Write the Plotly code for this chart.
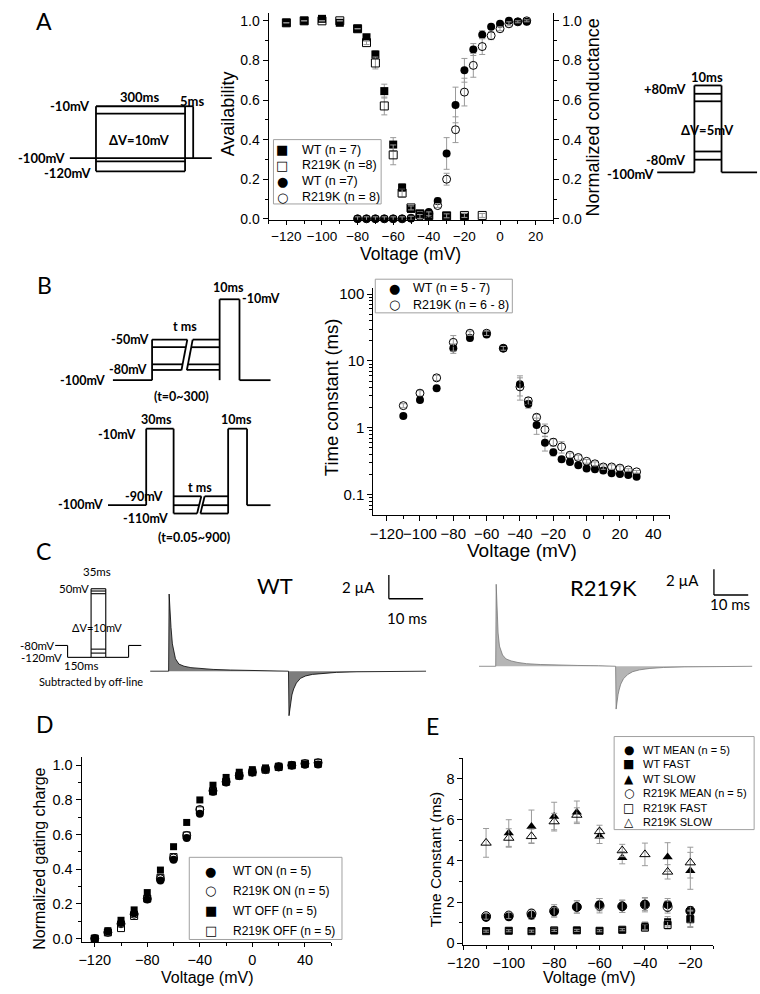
import plotly.graph_objects as go

FONT = "Liberation Sans"
PFONT = "Lato"
SYMFONT = "DejaVu Sans"
W, H = 760, 994

def px(x):
    return x / W

def py(y):
    return 1 - y / H

# ---------------- Panel A data ----------------
a_av_v = [-120, -110, -100, -90, -80, -75, -70, -65, -60, -55, -50, -45, -40, -30, -20, -10]
a_av_wt = [0.99, 1.0, 1.01, 0.99, 0.96, 0.917, 0.83, 0.645, 0.375, 0.158, 0.05, 0.025, 0.017, 0.015, 0.01, None]
a_av_wt_err = [0, 0, 0, 0, 0, 0.01, 0.02, 0.035, 0.035, 0.02, 0.005, 0, 0, 0, 0, 0]
a_av_r = [0.99, 1.0, 1.0, 1.0, 0.96, 0.89, 0.787, 0.57, 0.323, 0.13, 0.055, 0.025, 0.017, 0.015, 0.017, 0.017]
a_av_r_err = [0, 0, 0, 0, 0, 0.01, 0.03, 0.045, 0.05, 0.02, 0.01, 0.01, 0.01, 0.01, 0.01, 0.01]

a_g_v = [-80, -75, -70, -65, -60, -55, -50, -45, -40, -35, -30, -25, -20, -15, -10, -5, 0, 5, 10, 15]
a_g_wt = [0, 0, 0, 0, 0, 0, 0.003, 0.015, 0.035, 0.09, 0.33, 0.575, 0.75, 0.855, 0.93, 0.97, 0.985, 1.0, 0.995, 0.995]
a_g_wt_err = [0.005, 0.005, 0.005, 0.005, 0.005, 0.005, 0.005, 0.01, 0.01, 0.015, 0.08, 0.09, 0.06, 0.03, 0.02, 0.01, 0.01, 0.005, 0.005, 0.005]
a_g_r = [0, 0, 0, 0, 0, 0, 0.003, 0.012, 0.025, 0.067, 0.2, 0.45, 0.64, 0.775, 0.87, 0.925, 0.96, 0.985, 0.995, 1.0]
a_g_r_err = [0.01, 0.01, 0.01, 0.01, 0.01, 0.01, 0.01, 0.01, 0.01, 0.01, 0.03, 0.065, 0.07, 0.06, 0.04, 0.02, 0.01, 0.01, 0.005, 0.005]
a_legend = [("■", "WT (n = 7)"), ("□", "R219K (n =8)"), ("●", "WT (n =7)"), ("○", "R219K (n = 8)")]

# ---------------- Panel B data ----------------
b_v = [-110, -100, -90, -80, -70, -60, -50, -40, -35, -30, -25, -20, -15, -10, -5, 0, 5, 10, 15, 20, 25, 30]
b_wt = [1.5, 2.6, 3.9, 15.5, 22, 25, 15.5, 4.5, 2.27, 1.1, 0.6, 0.43, 0.34, 0.31, 0.275, 0.247, 0.24, 0.23, 0.21, 0.205, 0.197, 0.186]
b_wt_err = [0.1, 0.2, 0.3, 2.5, 2, 2, 1, 1.5, 0.3, 0.3, 0.15, 0.05, 0.03, 0.02, 0.02, 0.02, 0.02, 0.02, 0.01, 0.01, 0.01, 0.01]
b_r = [2.15, 3.3, 5.6, 19, 26, 26, 15.5, 4.1, 2.54, 1.44, 0.94, 0.61, 0.52, 0.39, 0.36, 0.316, 0.29, 0.26, 0.26, 0.25, 0.235, 0.22]
b_r_err = [0.15, 0.3, 0.5, 5, 2, 2, 1, 1.5, 0.3, 0.15, 0.2, 0.08, 0.1, 0.03, 0.03, 0.02, 0.02, 0.02, 0.02, 0.02, 0.01, 0.01]
b_legend = [("●", "WT (n = 5 - 7)"), ("○", "R219K (n = 6 - 8)")]

# ---------------- Panel C data (gating current traces, µA vs ms) ----------------
c_t = [-5.4, 0.0, 0.15, 0.4, 0.7, 1.1, 1.5, 2.0, 3.0, 4.5, 6.5, 9, 13, 18, 24, 30, 34.9,
       35.0, 35.15, 35.4, 35.7, 36.0, 36.5, 37.3, 38.5, 40, 42, 45, 49, 55, 62, 75.2]
c_wt = [0, 0, 6.5, 5.0, 3.7, 2.3, 1.6, 1.05, 0.6, 0.42, 0.3, 0.22, 0.15, 0.1, 0.07, 0.05, 0.04,
        0, -3.75, -3.1, -2.5, -2.0, -1.5, -1.0, -0.6, -0.4, -0.27, -0.17, -0.1, -0.05, -0.03, 0]
c_r = [0, 0, 6.9, 4.2, 2.8, 1.7, 1.3, 0.95, 0.62, 0.45, 0.32, 0.22, 0.15, 0.1, 0.07, 0.05, 0.04,
       0, -3.6, -2.9, -2.4, -2.0, -1.5, -1.05, -0.7, -0.45, -0.3, -0.18, -0.1, -0.05, -0.03, 0]

# ---------------- Panel D data ----------------
d_v = [-120, -110, -100, -90, -80, -70, -60, -50, -40, -30, -20, -10, 0, 10, 20, 30, 40, 50]
d_wt_on = [0.0, 0.04, 0.09, 0.145, 0.225, 0.335, 0.455, 0.58, 0.72, 0.847, 0.9, 0.94, 0.96, 0.977, 0.994, 1.0, 1.003, 1.005]
d_r_on = [0.0, 0.035, 0.085, 0.14, 0.23, 0.345, 0.465, 0.595, 0.745, 0.853, 0.905, 0.94, 0.96, 0.975, 0.99, 1.0, 1.01, 1.015]
d_wt_off = [0.0, 0.045, 0.105, 0.165, 0.265, 0.395, 0.53, 0.67, 0.80, 0.885, 0.93, 0.96, 0.975, 0.985, 0.995, 1.0, 1.005, 1.005]
d_r_off = [0.0, 0.035, 0.06, 0.13, 0.23, 0.35, 0.47, 0.595, 0.74, 0.85, 0.905, 0.94, 0.96, 0.975, 0.99, 1.0, 1.01, 1.015]
d_legend = [("●", "WT ON (n = 5)"), ("○", "R219K ON (n = 5)"), ("■", "WT OFF (n = 5)"), ("□", "R219K OFF (n = 5)")]

# ---------------- Panel E data ----------------
e_v = [-110, -100, -90, -80, -70, -60, -50, -40, -30, -20]
e_wt_mean = [1.25, 1.28, 1.36, 1.52, 1.76, 1.87, 1.79, 1.89, 1.87, 1.57]
e_wt_mean_err = [0.15, 0.15, 0.2, 0.25, 0.3, 0.3, 0.3, 0.3, 0.3, 0.2]
e_wt_fast = [0.6, 0.6, 0.6, 0.6, 0.62, 0.6, 0.64, 0.83, 1.04, 1.2]
e_wt_fast_err = [0.05, 0.05, 0.05, 0.05, 0.05, 0.05, 0.05, 0.2, 0.25, 0.4]
e_wt_slow = [None, 5.36, 5.68, 6.16, 6.37, 5.2, 4.16, None, 4.19, 3.52]
e_wt_slow_err = [0, 0.65, 0.8, 0.7, 0.55, 0.35, 0.3, 0, 0.7, 0.9]
e_r_mean = [1.31, 1.34, 1.44, 1.57, 1.76, 1.82, 1.79, 1.87, 1.76, 1.57]
e_r_mean_err = [0.15, 0.15, 0.2, 0.3, 0.3, 0.35, 0.3, 0.35, 0.3, 0.2]
e_r_fast = [0.58, 0.6, 0.58, 0.62, 0.62, 0.6, 0.65, 0.75, 0.88, 1.16]
e_r_fast_err = [0.05, 0.05, 0.05, 0.05, 0.05, 0.05, 0.05, 0.15, 0.2, 0.4]
e_r_slow = [4.88, 5.12, 5.2, 5.92, 6.24, 5.44, 4.51, 4.32, 3.47, 3.92]
e_r_slow_err = [0.7, 0.45, 0.35, 0.4, 0.35, 0.3, 0.3, 0.55, 0.35, 0.75]
e_legend = [("●", "WT MEAN (n = 5)"), ("■", "WT FAST"), ("▲", "WT SLOW"),
            ("○", "R219K MEAN (n = 5)"), ("□", "R219K FAST"), ("△", "R219K SLOW")]

fig = go.Figure()

def err(arr):
    return dict(type="data", array=arr, visible=True, color="#9a9a9a", thickness=1, width=3)

def mk(symbol, size, filled=True):
    if filled:
        return dict(symbol=symbol, size=size, color="black", line=dict(width=0))
    return dict(symbol=symbol + "-open", size=size, color="black", line=dict(width=1, color="black"))

def sc(x, y, name, marker, e, xa, ya):
    kw = dict(x=x, y=y, mode="markers", name=name, marker=marker, xaxis=xa, yaxis=ya,
              showlegend=False, cliponaxis=False)
    if e is not None:
        kw["error_y"] = err(e)
    fig.add_trace(go.Scatter(**kw))

# Panel A
sc(a_av_v, a_av_wt, a_legend[0][1], mk("square", 8), a_av_wt_err, "x", "y")
sc(a_av_v, a_av_r, a_legend[1][1], mk("square", 8, False), a_av_r_err, "x", "y")
sc(a_g_v, a_g_wt, a_legend[2][1], mk("circle", 8), a_g_wt_err, "x", "y2")
sc(a_g_v, a_g_r, a_legend[3][1], mk("circle", 8, False), a_g_r_err, "x", "y2")

# Panel B
sc(b_v, b_wt, b_legend[0][1], mk("circle", 8), b_wt_err, "x2", "y3")
sc(b_v, b_r, b_legend[1][1], mk("circle", 8, False), b_r_err, "x2", "y3")

# Panel C traces
fig.add_trace(go.Scatter(x=c_t, y=c_wt, mode="lines", line=dict(color="black", width=0.8),
                         fill="tozeroy", fillcolor="rgba(70,70,70,0.7)", showlegend=False, name="WT",
                         xaxis="x3", yaxis="y4"))
fig.add_trace(go.Scatter(x=c_t, y=c_r, mode="lines", line=dict(color="#777777", width=0.8),
                         fill="tozeroy", fillcolor="rgba(150,150,150,0.7)", showlegend=False, name="R219K",
                         xaxis="x4", yaxis="y5"))

# Panel D
sc(d_v, d_wt_on, d_legend[0][1], mk("circle", 8), None, "x5", "y6")
sc(d_v, d_r_on, d_legend[1][1], mk("circle", 8, False), None, "x5", "y6")
sc(d_v, d_wt_off, d_legend[2][1], mk("square", 7), None, "x5", "y6")
sc(d_v, d_r_off, d_legend[3][1], mk("square", 7, False), None, "x5", "y6")

# Panel E
e_series = [
    (e_wt_mean, e_wt_mean_err, "circle", 9, True),
    (e_wt_fast, e_wt_fast_err, "square", 7, True),
    (e_wt_slow, e_wt_slow_err, "triangle-up", 9, True),
    (e_r_mean, e_r_mean_err, "circle", 9, False),
    (e_r_fast, e_r_fast_err, "square", 7, False),
    (e_r_slow, e_r_slow_err, "triangle-up", 9, False),
]
for (ys, es, sym, sz, filled), (g, name) in zip(e_series, e_legend):
    sc(e_v, ys, name, mk(sym, sz, filled), es, "x6", "y7")

# ---------------- axes ----------------
def ax(tsize=14, tl=5, **kw):
    d = dict(showline=True, linecolor="black", linewidth=1, ticks="outside", ticklen=tl, tickwidth=1,
             tickcolor="black", showgrid=False, zeroline=False, tickangle=0,
             tickfont=dict(family=FONT, size=tsize, color="black"))
    d.update(kw)
    return d

def minor(dt):
    return dict(ticks="outside", ticklen=3, tickcolor="black", dtick=dt)

log_minor = [v * m for v in (0.01, 0.1, 1, 10, 100) for m in range(2, 10)]

fig.update_layout(
    width=W, height=H, margin=dict(l=0, r=0, t=0, b=0),
    paper_bgcolor="white", plot_bgcolor="rgba(0,0,0,0)",
    font=dict(family=FONT, color="black"), showlegend=False,
    xaxis=ax(13.5, 4, domain=[px(258), px(549)], anchor="y", range=[-130, 30], dtick=20, tick0=0, minor=minor(10)),
    yaxis=ax(14, 5, domain=[py(219), py(10)], anchor="x", range=[-0.005, 1.04], dtick=0.2, tick0=0,
             tickformat=".1f", minor=minor(0.1)),
    yaxis2=ax(14, 5, overlaying="y", side="right", anchor="x", range=[-0.005, 1.04], dtick=0.2, tick0=0,
              tickformat=".1f", minor=minor(0.1)),
    xaxis2=ax(15, domain=[px(365), px(668)], anchor="y3", range=[-128, 50], dtick=20, tick0=0, minor=minor(10)),
    yaxis3=ax(15, domain=[py(517), py(288)], anchor="x2", type="log", range=[-1.3, 2.09],
              tickmode="array", tickvals=[0.1, 1, 10, 100], ticktext=["0.1", "1", "10", "100"],
              minor=dict(ticks="outside", ticklen=3, tickcolor="black", tickmode="array", tickvals=log_minor)),
    xaxis3=dict(domain=[px(137), px(419)], anchor="y4", range=[-5.4, 75.2], visible=False),
    yaxis4=dict(domain=[py(725), py(568)], anchor="x3", range=[-4.17, 8.92], visible=False),
    xaxis4=dict(domain=[px(473), px(752)], anchor="y5", range=[-4.86, 74.86], visible=False),
    yaxis5=dict(domain=[py(725), py(568)], anchor="x4", range=[-4.58, 8.5], visible=False),
    xaxis5=ax(14.5, 4, domain=[px(67), px(322)], anchor="y6", range=[-130, 60], dtick=40, tick0=0, minor=minor(20)),
    yaxis6=ax(14.5, 5, domain=[py(949), py(762)], anchor="x5", range=[-0.023, 1.046], dtick=0.2, tick0=0,
              tickformat=".1f", minor=minor(0.1)),
    xaxis6=ax(14.5, 4, domain=[px(457), px(712)], anchor="y7", range=[-120, -10], dtick=20, tick0=0, minor=minor(10)),
    yaxis7=ax(14.5, 5, domain=[py(951.7), py(763)], anchor="x6", range=[-0.1, 9.0], dtick=2, tick0=0, minor=minor(1)),
)

shapes = []
ann = []

# ---------------- axis titles ----------------
def title(x, y, s, size, angle=0):
    ann.append(dict(x=px(x), y=py(y), xref="paper", yref="paper", text=s, showarrow=False,
                    xanchor="center", yanchor="middle", textangle=angle,
                    font=dict(family=FONT, size=size, color="black")))

title(403, 254, "Voltage (mV)", 17.5)
title(216, 112, "Availability", 18, -90)
title(589, 116, "Normalized conductance", 18, -90)
title(517, 553, "Voltage (mV)", 19)
title(323, 398, "Time constant (ms)", 18.5, -90)
title(195, 984, "Voltage (mV)", 16)
title(24, 864, "Normalized gating charge", 16, -90)
title(585, 984, "Voltage (mV)", 16)
title(428, 865, "Time Constant (ms)", 15.5, -90)

# ---------------- legends (boxed, symbol + label rows) ----------------
def legend_box(box, sym_x, text_x, row_ys, items, size, sym_size):
    x0, y0, x1, y1 = box
    shapes.append(dict(type="rect", xref="paper", yref="paper", x0=px(x0), y0=py(y0), x1=px(x1), y1=py(y1),
                       line=dict(color="#a0a0a0", width=1), fillcolor="white", layer="above"))
    for (g, s), yy in zip(items, row_ys):
        ann.append(dict(x=px(sym_x), y=py(yy), xref="paper", yref="paper", text=g, showarrow=False,
                        xanchor="center", yanchor="middle",
                        font=dict(family=SYMFONT, size=sym_size, color="black")))
        ann.append(dict(x=px(text_x), y=py(yy), xref="paper", yref="paper", text=s, showarrow=False,
                        xanchor="left", yanchor="middle",
                        font=dict(family=FONT, size=size, color="black")))

legend_box((263, 138, 373, 203), 272, 290, [148, 164, 180, 196], a_legend, 12.5, 13)
legend_box((367, 279, 507, 313), 387, 403, [288, 305], b_legend, 12.5, 13)
legend_box((177, 863, 333, 946), 199, 220, [877, 897, 917, 937], d_legend, 12, 13)
legend_box((611, 741, 754, 835), 626, 638, [755, 769, 784, 798, 813, 827], e_legend, 11, 12)

# ---------------- protocol diagrams (schematics, pixel space) ----------------
def seg(x0, y0, x1, y1, w=1.8, ref=None):
    if ref is None:
        shapes.append(dict(type="line", xref="paper", yref="paper", x0=px(x0), y0=py(y0), x1=px(x1), y1=py(y1),
                           line=dict(color="black", width=w)))
    else:
        shapes.append(dict(type="line", xref=ref[0], yref=ref[1], x0=x0, y0=y0, x1=x1, y1=y1,
                           line=dict(color="black", width=w)))

# A left protocol
seg(55, 156.7, 200, 156.7)
seg(81.7, 104.3, 172.7, 104.3)
seg(81.7, 170, 172.7, 170)
seg(81.7, 104.3, 81.7, 170)
seg(172.7, 104.3, 172.7, 170)
seg(81.7, 111.7, 172.7, 111.7)
seg(81.7, 160, 172.7, 160)
seg(172.7, 104.3, 181, 104.3)
seg(181, 104.3, 181, 156.7)

# A right protocol
seg(655, 171, 693, 171)
seg(693, 83.3, 693, 171)
seg(693, 83.3, 720.7, 83.3)
seg(720.7, 83.3, 720.7, 171)
seg(720.7, 171, 757, 171)
for yy in (91.7, 99.3, 150, 158.3):
    seg(693, yy, 720.7, yy)

# B top protocol
seg(99, 381, 139, 381)
seg(139, 340, 139, 381)
for yy in (340, 347.7, 365, 370.7):
    f = (yy - 340) / 31.0
    seg(139, yy, 175 - 6 * f, yy)
    seg(180.5 - 6 * f, yy, 208, yy)
seg(175, 340, 169, 371)
seg(180.5, 340, 174.5, 371)
seg(208, 299.3, 208, 381)
seg(208, 299.3, 228.3, 299.3)
seg(228.3, 299.3, 228.3, 381)
seg(228.3, 381, 260, 381)

# B bottom protocol
seg(94, 507.3, 133, 507.3)
seg(133, 430, 133, 507.3)
seg(133, 430, 161, 430)
seg(161, 430, 161, 515.7)
for yy in (498.3, 507.3, 515.7):
    f = (yy - 498.3) / 17.4
    seg(161, yy, 189.3 - 4.3 * f, yy)
    seg(192.7 - 4.3 * f, yy, 216.7, yy)
seg(189.3, 498.3, 185, 515.7)
seg(192.7, 498.3, 188.4, 515.7)
seg(216.7, 430, 216.7, 515.7)
seg(216.7, 430, 236, 430)
seg(236, 430, 236, 507.3)
seg(236, 507.3, 260, 507.3)

# C protocol
cw = 1.1
seg(40, 649, 52.7, 649, cw)
seg(52.7, 649, 52.7, 661, cw)
seg(52.7, 661, 76.7, 661, cw)
seg(76.7, 591.7, 76.7, 661, cw)
seg(91.7, 591.7, 91.7, 661, cw)
for yy in (591.7, 594, 596.7, 652.7, 656.7, 661):
    seg(76.7, yy, 91.7, yy, cw)
seg(91.7, 661, 115, 661, cw)
seg(115, 649, 115, 661, cw)
seg(115, 649, 128, 649, cw)

# C scale bars (data units: µA and ms)
seg(64.3, 8.1, 64.3, 6.1, 1.3, ("x3", "y4"))
seg(64.3, 6.1, 74.3, 6.1, 1.3, ("x3", "y4"))
seg(63.7, 8.17, 63.7, 6.0, 1.3, ("x4", "y5"))
seg(63.7, 6.0, 73.7, 6.0, 1.3, ("x4", "y5"))

# ---------------- text ----------------
def txt(x, y, s, size=13, bold=True, family=PFONT, xanchor="center"):
    t = "<b>%s</b>" % s if bold else s
    ann.append(dict(x=px(x), y=py(y), xref="paper", yref="paper", text=t, showarrow=False,
                    xanchor=xanchor, yanchor="middle", font=dict(family=family, size=size, color="black")))

def dtxt(xr, yr, x, y, s, size):
    ann.append(dict(x=x, y=y, xref=xr, yref=yr, text=s, showarrow=False, xanchor="center", yanchor="middle",
                    font=dict(family=PFONT, size=size, color="black")))

# panel letters
for L, x, y in (("A", 29, 18), ("B", 29, 285), ("C", 28, 554), ("D", 30, 728), ("E", 425, 730)):
    txt(x, y, L, 23, False)

# A protocols
txt(55.5, 104, "-10mV")
txt(127, 95, "300ms")
txt(180, 99, "5ms")
txt(126, 138, "ΔV=10mV")
txt(26, 157, "-100mV")
txt(53, 172, "-120mV")
txt(663, 87, "+80mV")
txt(706, 75, "10ms")
txt(706, 128, "ΔV=5mV")
txt(664, 159, "-80mV")
txt(628, 173, "-100mV")

# B protocols
txt(217, 287, "10ms", 12.5)
txt(250, 299, "-10mV", 12.5)
txt(173, 327, "t ms", 12.5)
txt(116, 340, "-50mV", 12.5)
txt(114, 370, "-80mV", 12.5)
txt(68, 381, "-100mV", 12.5)
txt(169, 398, "(t=0~300)", 12.5)
txt(144, 421, "30ms", 12.5)
txt(225, 421, "10ms", 12.5)
txt(103, 436, "-10mV", 12.5)
txt(131, 499, "-90mV", 12.5)
txt(132, 521, "-110mV", 12.5)
txt(188, 489, "t ms", 12.5)
txt(182, 540, "(t=0.05~900)", 12.5)
txt(66, 507, "-100mV", 12.5)

# C protocol
txt(83, 574, "35ms", 11.5, False)
txt(59, 591, "50mV", 11.5, False)
txt(83, 631, "ΔV=10mV", 11, False)
txt(21, 649, "-80mV", 11.5, False)
txt(26, 661, "-120mV", 11.5, False)
txt(66, 669, "150ms", 11.5, False)
txt(77, 685, "Subtracted by off-line", 11, False)

# C labels near traces
dtxt("x3", "y4", 31.0, 7.2, "WT", 22)
dtxt("x3", "y4", 55.4, 7.1, "2 µA", 15)
dtxt("x3", "y4", 69.5, 4.5, "10 ms", 15)
dtxt("x4", "y5", 31.4, 6.6, "R219K", 22)
dtxt("x4", "y5", 54.6, 7.3, "2 µA", 15)
dtxt("x4", "y5", 68.3, 5.2, "10 ms", 15)

fig.update_layout(shapes=shapes, annotations=ann)

fig.write_html("out.html", config={"displayModeBar": False},
               post_script="document.body.style.margin='0px';")
